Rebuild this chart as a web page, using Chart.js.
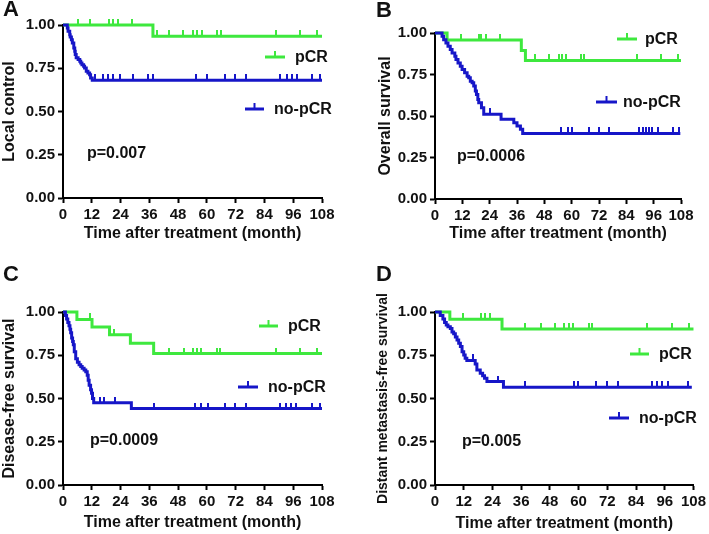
<!DOCTYPE html>
<html><head><meta charset="utf-8">
<script src="https://cdn.jsdelivr.net/npm/chart.js@4/dist/chart.umd.min.js"></script>
<style>
body{margin:0;background:#fff;width:709px;height:534px;overflow:hidden;position:relative}
.p{position:absolute}
.p canvas{display:block}
.lt{position:absolute;font:bold 22px "Liberation Sans",Arial,sans-serif;line-height:22px;color:#111}
</style></head><body>
<div class="p" style="left:0;top:0"><canvas id="cA" width="354" height="267"></canvas></div>
<div class="p" style="left:354px;top:0"><canvas id="cB" width="355" height="267"></canvas></div>
<div class="p" style="left:0;top:267px"><canvas id="cC" width="354" height="267"></canvas></div>
<div class="p" style="left:354px;top:267px"><canvas id="cD" width="355" height="267"></canvas></div>
<div class="lt" style="left:3px;top:-2px">A</div>
<div class="lt" style="left:376px;top:-1px">B</div>
<div class="lt" style="left:3px;top:263px">C</div>
<div class="lt" style="left:376px;top:263px">D</div>
<script>
// ---------- data ----------
const xTicks = [0, 12, 24, 36, 48, 60, 72, 84, 96, 108];
const yTicks = [0, 0.25, 0.5, 0.75, 1];
const seriesNames = ['pCR', 'no-pCR'];
const xTitle = 'Time after treatment (month)';
const yTitles = ['Local control', 'Overall survival', 'Disease-free survival', 'Distant metastasis-free survival'];
const pValues = ['p=0.007', 'p=0.0006', 'p=0.0009', 'p=0.005'];
const panelLetters = ['A', 'B', 'C', 'D'];

// Panel A – Local control
const A_pcrTime = [0, 37.5, 108];
const A_pcrSurv = [1, 0.935, 0.935];
const A_pcrCens = [6.3, 11.4, 19.2, 20.9, 22.9, 28.8, 39, 44.3, 49.9, 54.1, 56, 57.8, 64.3, 65.8, 88.8, 98.8, 106];
const A_nopcrTime = [0, 1.8, 2.1, 2.8, 3.0, 3.5, 3.9, 4.5, 4.9, 5.1, 5.5, 6.3, 7.0, 7.4, 7.9, 8.6, 9.0, 9.7, 10.4, 11.1, 11.5, 12.2, 108];
const A_nopcrSurv = [1, 0.983, 0.964, 0.944, 0.93, 0.915, 0.896, 0.867, 0.848, 0.83, 0.81, 0.80, 0.79, 0.78, 0.77, 0.761, 0.751, 0.732, 0.723, 0.713, 0.694, 0.68, 0.68];
const A_nopcrCens = [13.5, 16.5, 18.8, 21, 23.6, 29.2, 35.5, 37.6, 55.5, 60.1, 67.5, 71.9, 76.5, 90.4, 93.2, 95.5, 97.6, 103.9, 107.1];

// Panel B – Overall survival
const B_pcrTime = [0, 5.3, 37.9, 39.7, 108];
const B_pcrSurv = [1, 0.958, 0.895, 0.835, 0.835];
const B_pcrCens = [11.6, 19.2, 20.4, 22.4, 28.7, 44.1, 50.2, 54.4, 55.8, 57.3, 64.2, 65.6, 88.8, 99, 106.5];
const B_nopcrTime = [0, 3.1, 3.8, 4.8, 5.7, 6.7, 7.5, 8.7, 9.2, 10.1, 11.1, 11.9, 13.0, 14.1, 14.8, 15.5, 16.3, 17.0, 17.7, 18.2, 18.8, 19.2, 20.4, 21.4, 29.0, 34.6, 36.0, 37.5, 38.5, 107.7];
const B_nopcrSurv = [1, 0.98, 0.96, 0.94, 0.92, 0.90, 0.88, 0.86, 0.84, 0.82, 0.80, 0.78, 0.76, 0.74, 0.73, 0.71, 0.70, 0.68, 0.65, 0.63, 0.60, 0.58, 0.55, 0.51, 0.48, 0.46, 0.44, 0.42, 0.395, 0.395];
const B_nopcrCens = [24.3, 55.5, 58.6, 60.1, 67.7, 72.1, 76.5, 89.7, 91.1, 92.6, 94.1, 95.3, 97.7, 104.3, 107];

// Panel C – Disease-free survival
const C_pcrTime = [0, 5.8, 12.1, 19.4, 28.1, 37.8, 108];
const C_pcrSurv = [1, 0.957, 0.913, 0.868, 0.82, 0.76, 0.76];
const C_pcrCens = [11.4, 19.8, 21.1, 44.2, 50.3, 54.1, 55.9, 57.5, 64.3, 65.6, 88.7, 99, 106];
const C_nopcrTime = [0, 1.0, 1.5, 2.0, 2.5, 2.9, 3.2, 3.6, 4.0, 4.3, 4.7, 5.3, 6.0, 6.7, 7.4, 8.0, 8.8, 9.5, 10.1, 10.5, 10.9, 11.5, 11.9, 12.3, 12.8, 28.5, 108];
const C_nopcrSurv = [1, 0.98, 0.96, 0.94, 0.92, 0.90, 0.88, 0.85, 0.83, 0.81, 0.77, 0.73, 0.71, 0.695, 0.685, 0.675, 0.665, 0.655, 0.635, 0.606, 0.577, 0.55, 0.53, 0.50, 0.475, 0.442, 0.442];
const C_nopcrCens = [15.6, 17.1, 21.7, 38, 55.2, 57.7, 60.3, 67.7, 71.9, 76.5, 90.4, 93.1, 95.2, 97.3, 103.8, 107];

// Panel D – Distant metastasis-free survival
const D_pcrTime = [0, 6.2, 28.0, 108];
const D_pcrSurv = [1, 0.958, 0.902, 0.902];
const D_pcrCens = [11.6, 19.4, 21, 22.8, 37.6, 44.1, 50.3, 54.1, 55.9, 57.5, 64.2, 65.6, 88.5, 99, 106];
const D_nopcrTime = [0, 2.2, 3.3, 4.0, 4.7, 5.4, 6.4, 7.1, 7.8, 8.5, 9.2, 9.9, 10.6, 11.3, 12.0, 12.6, 13.3, 16.8, 17.5, 18.9, 19.9, 20.7, 21.7, 28.6, 107.3];
const D_nopcrSurv = [1, 0.98, 0.96, 0.94, 0.925, 0.915, 0.905, 0.885, 0.875, 0.855, 0.838, 0.82, 0.80, 0.77, 0.752, 0.733, 0.72, 0.70, 0.665, 0.646, 0.632, 0.617, 0.598, 0.565, 0.565];
const D_nopcrCens = [15.8, 26.3, 37.8, 58, 59.6, 67.4, 71.9, 76.3, 90.6, 92.7, 94.8, 97.3, 105.9];

// ---------- drawing ----------
const FF = '"Liberation Sans", Arial, sans-serif';
const GREEN = 'rgb(62,232,62)';
const BLUE = 'rgb(22,22,200)';
const INK = '#111';
const LW = 3;
Chart.defaults.font.family = FF;

function pts(T, S) { return T.map((t, i) => ({x: t, y: S[i]})); }
function survAt(T, S, t) { let v = S[0]; for (let i = 0; i < T.length; i++) { if (T[i] <= t) v = S[i]; } return v; }
function censPts(T, S, C) { return C.map(t => ({x: t, y: survAt(T, S, t)})); }
function tickImg(color) {
  const c = document.createElement('canvas'); c.width = 2; c.height = 12;
  const g = c.getContext('2d'); g.fillStyle = color; g.fillRect(0, 0, 2, 6); return c;
}

const kmDecor = {
  id: 'kmDecor',
  afterDraw(chart, args, o) {
    const ctx = chart.ctx;
    ctx.save();
    o.items.forEach(it => {
      ctx.strokeStyle = it.color; ctx.lineWidth = LW;
      ctx.beginPath(); ctx.moveTo(it.x1, it.y); ctx.lineTo(it.x2, it.y); ctx.stroke();
      ctx.lineWidth = 2;
      const mx = (it.x1 + it.x2) / 2;
      ctx.beginPath(); ctx.moveTo(mx, it.y); ctx.lineTo(mx, it.y - 6); ctx.stroke();
      ctx.fillStyle = INK; ctx.font = 'bold 16px ' + FF; ctx.textBaseline = 'middle'; ctx.textAlign = 'left';
      ctx.fillText(it.label, it.tx, it.y + 1);
    });
    ctx.fillStyle = INK; ctx.font = 'bold 16px ' + FF; ctx.textBaseline = 'middle'; ctx.textAlign = 'left';
    ctx.fillText(o.p.text, o.p.x, o.p.y);
    ctx.restore();
  }
};

function makeChart(id, c) {
  new Chart(document.getElementById(id), {
    type: 'scatter',
    data: {
      datasets: [
        {label: seriesNames[1], data: pts(c.nT, c.nS), showLine: true, stepped: true, borderColor: BLUE, borderWidth: LW, pointRadius: 0, clip: false},
        {label: seriesNames[1] + ' censored', data: censPts(c.nT, c.nS, c.nC), pointStyle: tickImg(BLUE), pointRadius: 3, clip: false},
        {label: seriesNames[0], data: pts(c.pT, c.pS), showLine: true, stepped: true, borderColor: GREEN, borderWidth: LW, pointRadius: 0, clip: false},
        {label: seriesNames[0] + ' censored', data: censPts(c.pT, c.pS, c.pC), pointStyle: tickImg(GREEN), pointRadius: 3, clip: false}
      ]
    },
    options: {
      responsive: false, animation: false, events: [],
      layout: {padding: c.pad},
      plugins: {legend: {display: false}, tooltip: {enabled: false}, kmDecor: {items: c.leg, p: c.p}},
      scales: {
        x: {
          type: 'linear', min: 0, max: 108,
          afterBuildTicks: s => { s.ticks = xTicks.map(v => ({value: v})); },
          afterFit: s => { s.height = c.xh; },
          grid: {drawOnChartArea: false, drawTicks: true, tickLength: 5, tickWidth: 2, color: '#000'},
          border: {color: '#000', width: 2},
          ticks: {color: INK, font: {size: 15, weight: 'bold'}, padding: 3, maxRotation: 0, autoSkip: false},
          title: {display: true, text: xTitle, color: INK, font: {size: 16, weight: 'bold'}, padding: 0}
        },
        y: {
          type: 'linear', min: 0, max: 1,
          afterBuildTicks: s => { s.ticks = yTicks.map(v => ({value: v})); },
          afterFit: s => { s.width = c.yw; },
          grid: {drawOnChartArea: false, drawTicks: true, tickLength: 5, tickWidth: 2, color: '#000'},
          border: {color: '#000', width: 2},
          ticks: {color: INK, font: {size: 15, weight: 'bold'}, padding: 3, callback: v => Number(v).toFixed(2)},
          title: {display: true, text: c.yTitle, color: INK, font: {size: c.ytf, weight: 'bold'}, padding: 0}
        }
      }
    },
    plugins: [kmDecor]
  });
}

makeChart('cA', {
  pT: A_pcrTime, pS: A_pcrSurv, pC: A_pcrCens, nT: A_nopcrTime, nS: A_nopcrSurv, nC: A_nopcrCens,
  yTitle: yTitles[0], ytf: 16, pad: {left: 0, right: 32, top: 25, bottom: 24}, yw: 63, xh: 45,
  leg: [{label: seriesNames[0], color: GREEN, x1: 265, x2: 285, y: 57, tx: 295},
        {label: seriesNames[1], color: BLUE, x1: 245, x2: 264, y: 109, tx: 274}],
  p: {text: pValues[0], x: 87, y: 154}
});
makeChart('cB', {
  pT: B_pcrTime, pS: B_pcrSurv, pC: B_pcrCens, nT: B_nopcrTime, nS: B_nopcrSurv, nC: B_nopcrCens,
  yTitle: yTitles[1], ytf: 16, pad: {left: 22, right: 28, top: 33, bottom: 24}, yw: 59, xh: 44,
  leg: [{label: seriesNames[0], color: GREEN, x1: 263, x2: 283, y: 39, tx: 291},
        {label: seriesNames[1], color: BLUE, x1: 242, x2: 263, y: 102, tx: 269}],
  p: {text: pValues[1], x: 103, y: 157}
});
makeChart('cC', {
  pT: C_pcrTime, pS: C_pcrSurv, pC: C_pcrCens, nT: C_nopcrTime, nS: C_nopcrSurv, nC: C_nopcrCens,
  yTitle: yTitles[2], ytf: 16, pad: {left: 0, right: 32, top: 45, bottom: 2}, yw: 63, xh: 47,
  leg: [{label: seriesNames[0], color: GREEN, x1: 259, x2: 278, y: 59, tx: 288},
        {label: seriesNames[1], color: BLUE, x1: 238, x2: 258, y: 120, tx: 268}],
  p: {text: pValues[2], x: 90, y: 174}
});
makeChart('cD', {
  pT: D_pcrTime, pS: D_pcrSurv, pC: D_pcrCens, nT: D_nopcrTime, nS: D_nopcrSurv, nC: D_nopcrCens,
  yTitle: yTitles[3], ytf: 14, pad: {left: 21, right: 15, top: 45, bottom: 1}, yw: 60, xh: 48,
  leg: [{label: seriesNames[0], color: GREEN, x1: 276, x2: 295, y: 87, tx: 305},
        {label: seriesNames[1], color: BLUE, x1: 255, x2: 275, y: 151, tx: 285}],
  p: {text: pValues[3], x: 108, y: 175}
});
</script>
</body></html>
